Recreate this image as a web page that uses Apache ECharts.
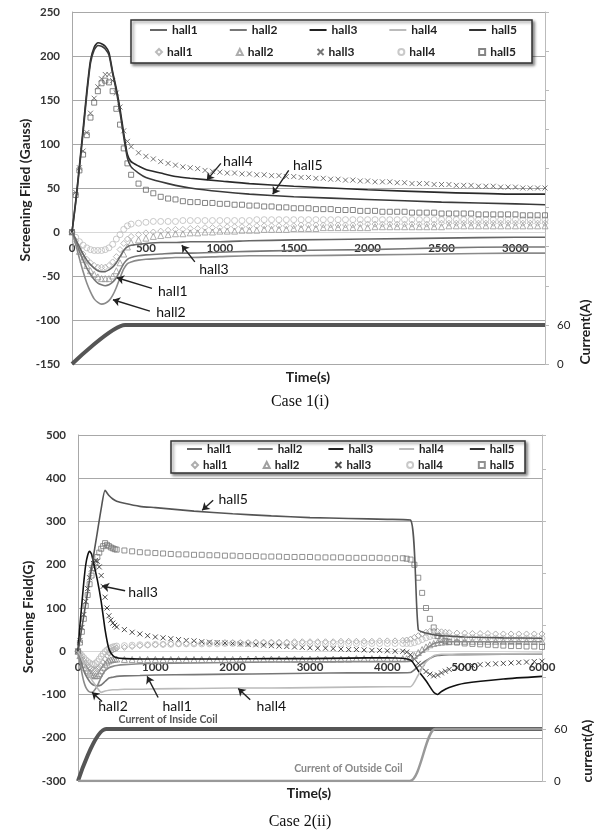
<!DOCTYPE html>
<html>
<head>
<meta charset="utf-8">
<title>Screening field</title>
<script src="https://cdn.jsdelivr.net/npm/echarts@6/dist/echarts.min.js"></script>
<style>
  html, body { margin: 0; padding: 0; background: #fff; }
  #main { width: 599px; height: 836px; }
</style>
</head>
<body>
<div id="main"></div>
<script>
/* ---------- Case 1(i) ---------- */
// time of simulated curves (s)
var tLine1 = [0,25,50,75,100,125,150,175,200,225,250,275,300,325,350,375,400,450,500,600,700,800,1000,1200,1500,2000,2500,3000,3200];
var line1Hall1 = [0,-10,-22,-32,-41,-48,-54,-58,-60,-61,-60,-57,-52,-44,-36,-31,-29,-27,-26,-25,-24,-24,-23,-22,-21,-20,-18,-17,-17];
var line1Hall2 = [0,-14,-30,-45,-58,-68,-76,-80,-82,-81,-78,-72,-63,-52,-42,-36,-34,-32,-31,-30,-29,-29,-28,-27,-27,-26,-25,-24,-24];
var line1Hall3 = [0,-8,-17,-25,-32,-37,-41,-44,-45,-45,-43,-40,-35,-28,-21,-17,-15,-14,-13,-12,-12,-11,-11,-10,-9,-8,-7,-6,-6];
var line1Hall4 = [0,35,75,117,160,195,210,215,214,211,204,182,163,140,112,88,80,75,71,67,63,61,58,55,52,48,45,43,43];
var line1Hall5 = [0,33,72,113,156,192,207,212,211,208,201,180,160,136,108,84,74,67,62,57,53,50,46,43,40,37,34,32,31];

// time of measured points (s)
var tMark1 = [0,25,50,75,100,125,150,175,200,225,250,275,300,325,350,375,400,
  450,500,550,600,650,700,750,800,850,900,
  950,1000,1050,1100,1150,1200,1250,1300,1350,1400,
  1450,1500,1550,1600,1650,1700,1750,1800,1850,1900,
  1950,2000,2050,2100,2150,2200,2250,2300,2350,2400,
  2450,2500,2550,2600,2650,2700,2750,2800,2850,2900,
  2950,3000,3050,3100,3150,3200];
var mark1Hall1 = [0,-10,-18,-25,-31,-35,-38,-40,-40,-40,-38,-34,-28,-20,-13,-8,-5,
  -3,-1,0,1,2,3,3,4,4,5, 5,5,6,6,6,6,7,7,7,7, 7,7,8,8,8,8,8,8,8,8,
  9,9,9,9,9,9,9,9,9,9, 9,10,10,10,10,10,10,10,10,10, 10,10,10,10,10,10];
var mark1Hall2 = [0,-12,-22,-31,-38,-44,-48,-51,-53,-53,-53,-50,-44,-35,-25,-17,-12,
  -9,-7,-5,-4,-3,-2,-2,-1,-1,0, 0,1,1,1,2,2,2,3,3,3, 3,4,4,4,4,5,5,5,5,5,
  5,5,6,6,6,6,6,6,6,6, 6,6,7,7,7,7,7,7,7,7, 7,7,7,7,7,7];
var mark1Hall3 = [0,45,73,92,113,135,152,165,174,179,179,172,158,142,115,103,97,
  90,86,83,80,78,76,74,73,72,70, 69,68,67,67,66,66,65,65,64,64, 63,63,62,62,61,61,60,60,59,59,
  58,58,57,57,57,56,56,55,55,55, 54,54,54,53,53,53,52,52,52,51, 51,51,50,50,50,50];
var mark1Hall4 = [0,-6,-11,-15,-18,-20,-21,-21,-21,-20,-18,-14,-8,-3,3,7,9,
  10,11,12,12,12,12,13,13,13,13, 13,13,13,13,13,13,14,14,14,14, 14,14,14,14,14,14,14,14,14,14,
  14,14,14,14,14,14,14,14,14,14, 14,14,14,14,14,14,14,14,14,14, 14,14,14,14,14,14];
var mark1Hall5 = [0,42,70,88,110,130,147,160,169,172,170,160,140,122,95,78,65,
  55,48,44,40,38,37,35,34,34,33, 33,32,32,31,31,30,30,29,29,28, 28,27,27,27,26,26,26,25,25,25,
  24,24,24,23,23,23,23,22,22,22, 22,21,21,21,21,21,20,20,20,20, 20,20,19,19,19,19];

// coil current (A)
var tCur1 = [0, 360, 3200];
var cur1 = [0, 60, 60];

// labels with arrows: [name, tipT, tipV, tailT, tailV, textT, textV]
var notes1 = [
  ['hall4', 912, 59, 1007, 78, 1122, 80],
  ['hall5', 1358, 43, 1466, 70, 1595, 76],
  ['hall3', 743, -15, 831, -34, 960, -43],
  ['hall1', 304, -52, 541, -64, 682, -68],
  ['hall2', 277, -77, 527, -90, 669, -92]
];

/* ---------- Case 2(ii) ---------- */
var tLine2 = [0,25,50,75,100,125,150,175,200,250,300,350,400,450,500,600,800,1000,1500,2000,2500,3000,3500,4000,4300,4400,4500,4600,4650,4700,4800,5000,5500,6000];
var line2Hall1 = [0,-15,-30,-45,-55,-63,-70,-75,-78,-80,-78,-70,-62,-60,-58,-57,-56,-55,-54,-53,-52,-51,-50,-50,-49,-35,-22,-12,-10,-9,-8,-8,-7,-6];
var line2Hall2 = [0,-25,-50,-70,-83,-90,-94,-95,-93,-80,-60,-45,-38,-35,-33,-31,-29,-28,-27,-26,-25,-25,-24,-24,-23,-10,5,18,20,21,22,22,22,22];
var line2Hall3 = [0,60,110,160,200,222,231,225,205,165,115,50,5,-10,-15,-17,-18,-18,-18,-18,-17,-17,-16,-15,-20,-45,-68,-95,-100,-93,-84,-74,-64,-58];
var line2Hall4 = [0,-8,-18,-28,-38,-48,-57,-65,-72,-85,-95,-92,-90,-89,-89,-88,-88,-87,-86,-85,-85,-84,-83,-82,-82,-55,-25,-10,-8,-7,-7,-6,-6,-5];
var line2Hall5 = [0,27,55,82,110,137,165,192,220,275,330,372,360,352,347,342,335,332,324,318,313,309,307,305,303,50,42,38,37,36,35,33,31,30];

var tMark2 = [0,25,50,75,100,125,150,175,200,225,250,275,300,325,350,375,400,425,450,475,500,
  600,700,800,900,1000,1100,1200,1300,1400,1500,1600,1700,1800,1900,2000,2100,2200,2300,2400,2500,
  2600,2700,2800,2900,3000,3100,3200,3300,3400,3500,3600,3700,3800,3900,4000,4100,4200,
  4250,4300,4350,4400,4450,4500,4550,4600,4650,4700,4750,4800,
  4900,5000,5100,5200,5300,5400,5500,5600,5700,5800,5900,6000];
var mark2Hall1 = [0,-8,-15,-22,-28,-33,-37,-40,-42,-42,-41,-38,-33,-26,-18,-10,-4,0,3,5,7,
  9,11,13,14,15,16,17,17,18,18, 19,19,19,20,20,20,20,21,21,21, 21,21,22,22,22,22,22,22,23,23, 23,23,23,24,24,24,25,
  26,28,32,36,40,44,46,47,46,45,44,43,
  42,42,41,41,41,40,40,40,40,40,40,40];
var mark2Hall2 = [0,-10,-20,-30,-38,-45,-50,-54,-56,-57,-56,-52,-45,-37,-30,-25,-22,-20,-19,-18,-18,
  -19,-19,-19,-19,-19,-19,-19,-19,-19,-19, -19,-19,-19,-19,-19,-18,-18,-18,-18,-18, -18,-18,-18,-18,-18,-18,-18,-18,-18,-18, -17,-17,-17,-17,-17,-17,-17,
  -17,-16,-10,-3,4,10,15,18,20,21,22,22,
  23,23,23,23,23,23,23,23,23,23,23,23];
var mark2Hall3 = [0,25,55,85,115,145,170,190,203,210,208,195,175,150,125,100,82,72,65,60,56,
  50,44,40,36,33,31,29,27,25,24, 22,21,20,19,18,17,16,15,14,13, 12,11,10,9,8,7,7,6,5,4, 4,3,2,2,1,0,0,
  -2,-8,-18,-28,-38,-47,-53,-57,-55,-50,-46,-42,
  -38,-35,-33,-31,-30,-29,-28,-27,-26,-25,-24,-23];
var mark2Hall4 = [0,-5,-10,-15,-20,-24,-27,-30,-30,-28,-24,-18,-12,-6,-1,3,6,8,10,11,12,
  13,14,15,15,16,16,16,17,17,17, 17,17,17,18,18,18,18,18,18,18, 18,18,18,18,18,18,18,18,18,18, 18,18,18,18,18,18,18,
  18,18,20,23,27,31,34,36,36,35,34,33,
  32,32,31,31,31,30,30,30,30,30,30,30];
var mark2Hall5 = [0,20,45,75,105,130,155,175,192,205,218,228,237,243,250,246,243,240,238,236,235,
  233,231,229,228,227,226,225,224,224,223, 223,222,222,221,221,220,220,220,219,219, 219,218,218,218,218,217,217,217,217,216, 216,216,216,216,215,215,215,
  214,212,200,170,135,100,75,55,35,28,24,22,
  20,18,17,16,15,14,13,12,12,11,11,10];

var tCurIn = [0, 363, 6000];
var curIn = [0, 60, 60];
var tCurOut = [0, 4290, 4620, 6000];
var curOut = [0, 0, 60, 60];

var notes2 = [
  ['hall5', 1606, 326, 1748, 349, 2007, 351],
  ['hall3', 311, 151, 609, 140, 842, 137],
  ['hall2', 181, -95, 311, -116, 453, -128],
  ['hall1', 894, -58, 1036, -107, 1282, -128],
  ['hall4', 2072, -86, 2227, -112, 2500, -128]
];
var coilText2 = [
  ['Current of Inside Coil', 1165, -158, '#555'],
  ['Current of Outside Coil', 3497, -272, '#888']
];

/* ---------- helpers ---------- */
var FONT = 'Lato, "Open Sans", sans-serif';
var CROSS = 'path://M0,0L10,10M10,0L0,10';

function pair(t, v) {
    var out = [];
    for (var i = 0; i < t.length; i++) out.push([t[i], v[i]]);
    return out;
}

function lineSeries(name, t, v, color, width, xi, yi) {
    return {
        name: name, type: 'line', xAxisIndex: xi, yAxisIndex: yi,
        data: pair(t, v), symbol: 'none', smooth: 0.2,
        lineStyle: {color: color, width: width}, itemStyle: {color: color},
        z: 3, animation: false, silent: true
    };
}

function markSeries(name, t, v, symbol, color, size, xi, yi) {
    return {
        name: name, type: 'scatter', xAxisIndex: xi, yAxisIndex: yi,
        data: pair(t, v), symbol: symbol, symbolSize: size,
        itemStyle: {color: 'rgba(0,0,0,0)', borderColor: color, borderWidth: 1},
        z: 2, animation: false, silent: true
    };
}

function noteMarks(notes, extra) {
    var lines = [], points = [];
    for (var i = 0; i < notes.length; i++) {
        var n = notes[i];
        lines.push([{coord: [n[1], n[2]]}, {coord: [n[3], n[4]]}]);
        points.push({name: n[0], coord: [n[5], n[6]]});
    }
    (extra || []).forEach(function (e) {
        points.push({name: e[0], coord: [e[1], e[2]],
            label: {fontSize: 10.5, fontWeight: 'bold', color: e[3]}});
    });
    return {
        markLine: {
            silent: true, animation: false, symbol: ['arrow', 'none'], symbolSize: 7,
            lineStyle: {color: '#222', width: 1.4, type: 'solid'},
            label: {show: false}, data: lines
        },
        markPoint: {
            silent: true, animation: false, symbol: 'circle', symbolSize: 0,
            label: {show: true, position: 'inside', formatter: '{b}', color: '#111',
                fontSize: 14, fontFamily: FONT},
            data: points
        }
    };
}

function splitColors(count, zeroIdx) {
    var c = [];
    for (var i = 0; i < count; i++) c.push(i === zeroIdx ? '#e2e2e2' : '#a8a8a8');
    return c;
}

// the time axis sits on the zero of the field axis (as in Excel)
function zeroOffset(yMin, yMax, height) {
    return -(0 - yMin) / (yMax - yMin) * height;
}

var legendFormatter = function (name) { return name.split('_')[0]; };

// one legend row; line rows get a thin bar icon in the given colours
function legendRow(names, left, top, iw, ih, gap, fs, lineColors) {
    var data = names.map(function (n, i) {
        var d = {name: n};
        if (lineColors) {
            d.icon = 'rect';
            d.itemStyle = {color: lineColors[i], borderWidth: 0};
        }
        return d;
    });
    return {
        data: data, left: left, top: top, orient: 'horizontal', padding: 0,
        itemGap: gap, itemWidth: iw, itemHeight: ih, selectedMode: false, z: 20,
        formatter: legendFormatter,
        textStyle: {fontWeight: 'bold', fontSize: fs, color: '#222', fontFamily: FONT}
    };
}

var axisLabelStyle = {color: '#333', fontWeight: 'bold', fontSize: 11.5, fontFamily: FONT};
var plainNum = function (v) { return String(v); };

/* ---------- series ---------- */
var lineNames1 = ['hall1_L1', 'hall2_L1', 'hall3_L1', 'hall4_L1', 'hall5_L1'];
var markNames1 = ['hall1_M1', 'hall2_M1', 'hall3_M1', 'hall4_M1', 'hall5_M1'];
var lineNames2 = ['hall1_L2', 'hall2_L2', 'hall3_L2', 'hall4_L2', 'hall5_L2'];
var markNames2 = ['hall1_M2', 'hall2_M2', 'hall3_M2', 'hall4_M2', 'hall5_M2'];

var h5top = lineSeries(lineNames1[4], tLine1, line1Hall5, '#3a3a3a', 1.6, 0, 0);
var notesTop = noteMarks(notes1);
h5top.markLine = notesTop.markLine;
h5top.markPoint = notesTop.markPoint;

var h5bot = lineSeries(lineNames2[4], tLine2, line2Hall5, '#555', 1.6, 1, 2);
var notesBot = noteMarks(notes2, coilText2);
h5bot.markLine = notesBot.markLine;
h5bot.markPoint = notesBot.markPoint;

var series = [
    // case 1
    markSeries(markNames1[0], tMark1, mark1Hall1, 'diamond', '#aaa', 6, 0, 0),
    markSeries(markNames1[1], tMark1, mark1Hall2, 'triangle', '#999', 6, 0, 0),
    markSeries(markNames1[2], tMark1, mark1Hall3, CROSS, '#555', 5, 0, 0),
    markSeries(markNames1[3], tMark1, mark1Hall4, 'circle', '#bbb', 6, 0, 0),
    markSeries(markNames1[4], tMark1, mark1Hall5, 'rect', '#666', 5, 0, 0),
    lineSeries(lineNames1[0], tLine1, line1Hall1, '#777', 1.6, 0, 0),
    lineSeries(lineNames1[1], tLine1, line1Hall2, '#8a8a8a', 1.6, 0, 0),
    lineSeries(lineNames1[2], tLine1, line1Hall3, '#666', 1.6, 0, 0),
    lineSeries(lineNames1[3], tLine1, line1Hall4, '#2a2a2a', 1.6, 0, 0),
    h5top,
    lineSeries('current_1', tCur1, cur1, '#555', 4, 0, 1),
    // case 2
    markSeries(markNames2[0], tMark2, mark2Hall1, 'diamond', '#999', 6, 1, 2),
    markSeries(markNames2[1], tMark2, mark2Hall2, 'triangle', '#888', 6, 1, 2),
    markSeries(markNames2[2], tMark2, mark2Hall3, CROSS, '#222', 5, 1, 2),
    markSeries(markNames2[3], tMark2, mark2Hall4, 'circle', '#bbb', 6, 1, 2),
    markSeries(markNames2[4], tMark2, mark2Hall5, 'rect', '#777', 5, 1, 2),
    lineSeries(lineNames2[0], tLine2, line2Hall1, '#777', 1.6, 1, 2),
    lineSeries(lineNames2[1], tLine2, line2Hall2, '#8a8a8a', 1.6, 1, 2),
    lineSeries(lineNames2[2], tLine2, line2Hall3, '#111', 1.6, 1, 2),
    lineSeries(lineNames2[3], tLine2, line2Hall4, '#bbb', 1.6, 1, 2),
    h5bot,
    lineSeries('current_in', tCurIn, curIn, '#555', 4, 1, 3),
    lineSeries('current_out', tCurOut, curOut, '#999', 2.5, 1, 3)
];

var legendLineColors = ['#666', '#777', '#222', '#bbb', '#333'];

var option = {
    backgroundColor: '#fff',
    animation: false,
    grid: [
        {left: 72, top: 12, width: 473, height: 352},
        {left: 78, top: 435, width: 464, height: 346}
    ],
    xAxis: [
        {
            type: 'value', gridIndex: 0, min: 0, max: 3200, interval: 500,
            position: 'bottom', offset: zeroOffset(-150, 250, 352),
            axisLine: {onZero: false, lineStyle: {color: '#d8d8d8', width: 1}},
            axisTick: {show: false}, splitLine: {show: false},
            axisLabel: Object.assign({margin: 10, formatter: function (v) { return v % 500 === 0 ? String(v) : ''; }}, axisLabelStyle)
        },
        {
            type: 'value', gridIndex: 1, min: 0, max: 6000, interval: 1000,
            position: 'bottom', offset: zeroOffset(-300, 500, 346),
            axisLine: {onZero: false, lineStyle: {color: '#d8d8d8', width: 1}},
            axisTick: {show: false}, splitLine: {show: false},
            axisLabel: Object.assign({margin: 10, formatter: plainNum}, axisLabelStyle)
        }
    ],
    yAxis: [
        {
            type: 'value', gridIndex: 0, min: -150, max: 250, interval: 50,
            axisLine: {show: true, lineStyle: {color: '#a8a8a8'}}, axisTick: {show: false},
            splitLine: {lineStyle: {color: splitColors(9, 3), width: 1.2}},
            axisLabel: Object.assign({margin: 12, formatter: plainNum}, axisLabelStyle)
        },
        {
            type: 'value', gridIndex: 0, position: 'right', min: 0, max: 540, interval: 60,
            axisLine: {show: true, onZero: false, lineStyle: {color: '#bbb'}},
            axisTick: {show: true, length: 4, lineStyle: {color: '#bbb'}},
            splitLine: {show: false},
            axisLabel: {margin: 12, color: '#222', fontSize: 11.5, fontFamily: FONT,
                formatter: function (v) { return (v === 0 || v === 60) ? String(v) : ''; }}
        },
        {
            type: 'value', gridIndex: 1, min: -300, max: 500, interval: 100,
            axisLine: {show: true, lineStyle: {color: '#a8a8a8'}}, axisTick: {show: false},
            splitLine: {lineStyle: {color: splitColors(9, 3), width: 1.2}},
            axisLabel: Object.assign({margin: 12, formatter: plainNum}, axisLabelStyle)
        },
        {
            type: 'value', gridIndex: 1, position: 'right', min: 0, max: 400, interval: 60,
            axisLine: {show: true, onZero: false, lineStyle: {color: '#bbb'}},
            axisTick: {show: true, length: 4, lineStyle: {color: '#bbb'}},
            splitLine: {show: false},
            axisLabel: {margin: 12, color: '#222', fontSize: 11.5, fontFamily: FONT,
                formatter: function (v) { return (v === 0 || v === 60) ? String(v) : ''; }}
        }
    ],
    legend: [
        legendRow(lineNames1, 150, 24, 17, 2, 32, 12, legendLineColors),
        legendRow(markNames1, 155, 46, 6, 6, 43, 12),
        legendRow(lineNames2, 187, 443, 15, 2, 26, 11.5, legendLineColors),
        legendRow(markNames2, 191, 459, 6, 6, 35, 11.5)
    ],
    graphic: {
        elements: [
            // legend frames
            {type: 'rect', z: 10, shape: {x: 131, y: 20, width: 401, height: 43},
                style: {fill: '#fff', stroke: '#333', lineWidth: 1.5, shadowBlur: 3,
                    shadowOffsetX: 2, shadowOffsetY: 2, shadowColor: 'rgba(0,0,0,0.45)'}},
            {type: 'rect', z: 10, shape: {x: 171, y: 441, width: 354, height: 32},
                style: {fill: '#fff', stroke: '#333', lineWidth: 1.5, shadowBlur: 3,
                    shadowOffsetX: 2, shadowOffsetY: 2, shadowColor: 'rgba(0,0,0,0.45)'}},
            // axis names
            {type: 'text', x: 25, y: 190, rotation: Math.PI / 2,
                style: {text: 'Screening Filed (Gauss)', align: 'center', verticalAlign: 'middle',
                    font: 'bold 14px ' + FONT, fill: '#222'}},
            {type: 'text', x: 585, y: 332, rotation: Math.PI / 2,
                style: {text: 'Current(A)', align: 'center', verticalAlign: 'middle',
                    font: 'bold 14px ' + FONT, fill: '#222'}},
            {type: 'text', x: 308, y: 377,
                style: {text: 'Time(s)', align: 'center', verticalAlign: 'middle',
                    font: 'bold 14px ' + FONT, fill: '#222'}},
            {type: 'text', x: 300, y: 402,
                style: {text: 'Case 1(i)', align: 'center', verticalAlign: 'middle',
                    font: '16px "Liberation Serif", "DejaVu Serif", serif', fill: '#111'}},
            {type: 'text', x: 28, y: 617, rotation: Math.PI / 2,
                style: {text: 'Screening Field(G)', align: 'center', verticalAlign: 'middle',
                    font: 'bold 14px ' + FONT, fill: '#222'}},
            {type: 'text', x: 587, y: 751, rotation: Math.PI / 2,
                style: {text: 'current(A)', align: 'center', verticalAlign: 'middle',
                    font: 'bold 14px ' + FONT, fill: '#222'}},
            {type: 'text', x: 309, y: 793,
                style: {text: 'Time(s)', align: 'center', verticalAlign: 'middle',
                    font: 'bold 14px ' + FONT, fill: '#222'}},
            {type: 'text', x: 300, y: 822,
                style: {text: 'Case 2(ii)', align: 'center', verticalAlign: 'middle',
                    font: '16px "Liberation Serif", "DejaVu Serif", serif', fill: '#111'}}
        ]
    },
    series: series
};

var myChart = echarts.init(document.getElementById('main'));
myChart.setOption(option);
</script>
</body>
</html>
